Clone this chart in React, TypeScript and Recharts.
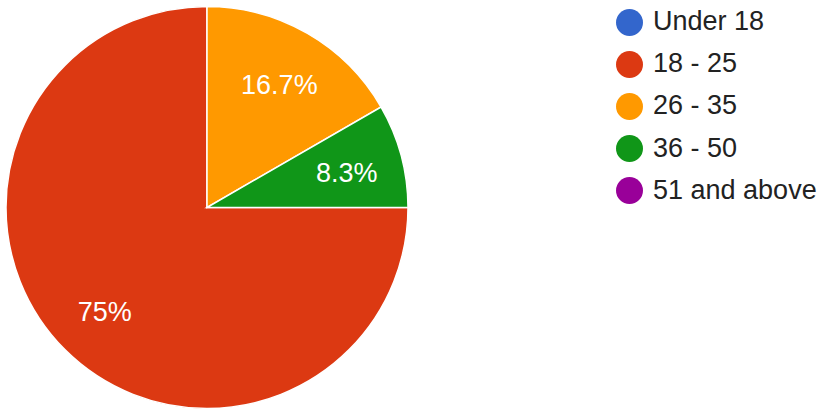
import React from 'react';
import { PieChart, Pie, Cell, Legend } from 'recharts';

const categories = ['Under 18', '18 - 25', '26 - 35', '36 - 50', '51 and above'];
const responses = [0, 9, 2, 1, 0];
const colors = ['#3366CC', '#DC3912', '#FF9900', '#109618', '#990099'];

const data = categories.map((name, i) => ({ name, value: responses[i] }));

const FONT = "Arial, 'Liberation Sans', sans-serif";
const RADIAN = Math.PI / 180;

const renderLabel = (props: any) => {
  const { cx, cy, midAngle, outerRadius, percent } = props;
  if (!percent) return null;
  const r = outerRadius * 0.72;
  const x = cx + r * Math.cos(-midAngle * RADIAN);
  const y = cy + r * Math.sin(-midAngle * RADIAN);
  const pct = Math.round(percent * 1000) / 10;
  const txt = (Number.isInteger(pct) ? pct.toFixed(0) : pct.toFixed(1)) + '%';
  return (
    <text
      x={x}
      y={y + 2.5}
      fill="#ffffff"
      textAnchor="middle"
      dominantBaseline="central"
      fontFamily={FONT}
      fontSize={27}
    >
      {txt}
    </text>
  );
};

const renderLegend = () => (
  <div style={{ fontFamily: FONT }}>
    {categories.map((c, i) => (
      <div
        key={c}
        style={{ display: 'flex', alignItems: 'center', height: 42.2, lineHeight: '42.2px' }}
      >
        <span
          style={{
            display: 'inline-block',
            width: 27,
            height: 27,
            borderRadius: '50%',
            background: colors[i],
            marginRight: 10,
            flex: '0 0 auto',
          }}
        />
        <span
          style={{
            fontSize: 27,
            color: '#222222',
            whiteSpace: 'nowrap',
            position: 'relative',
            top: -1,
          }}
        >
          {c}
        </span>
      </div>
    ))}
  </div>
);

export default function App() {
  return (
    <div style={{ position: 'absolute', left: 0, top: 0, width: 828, height: 416, background: '#fff' }}>
      <PieChart width={828} height={416} margin={{ top: 0, right: 0, bottom: 0, left: 0 }}>
        <Pie
          data={data}
          dataKey="value"
          nameKey="name"
          cx={207}
          cy={207.5}
          outerRadius={201}
          startAngle={0}
          endAngle={-360}
          stroke="#ffffff"
          strokeWidth={1.5}
          labelLine={false}
          label={renderLabel}
          isAnimationActive={false}
        >
          {data.map((d, i) => (
            <Cell key={d.name} fill={colors[i]} />
          ))}
        </Pie>
        <Legend
          layout="vertical"
          verticalAlign="top"
          align="right"
          content={renderLegend}
          wrapperStyle={{ left: 616, top: 1, right: 'auto', width: 212 }}
        />
      </PieChart>
    </div>
  );
}
